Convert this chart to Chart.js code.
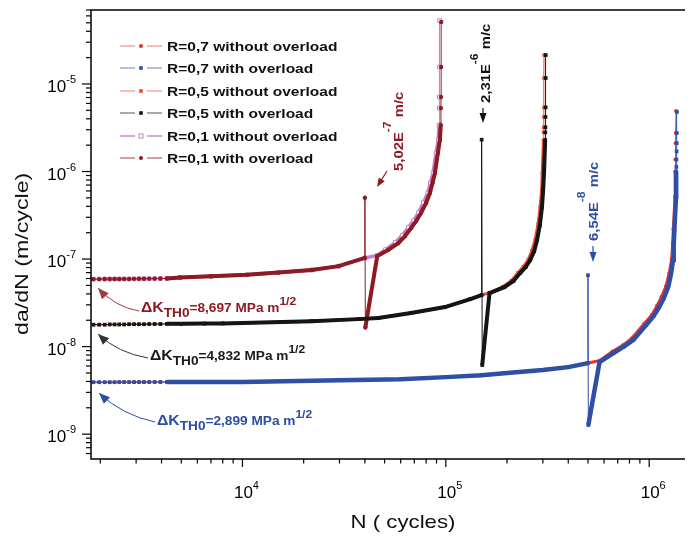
<!DOCTYPE html>
<html>
<head>
<meta charset="utf-8">
<title>Crack growth rate</title>
<script src="https://cdn.jsdelivr.net/npm/chart.js@4.4.1/dist/chart.umd.min.js"></script>
<style>
  html, body { margin: 0; padding: 0; background: #fff; }
</style>
</head>
<body>
<canvas id="rate-chart" width="690" height="536"></canvas>
<script>
// N (cycles) and da/dN (m/cycle) of each curve
var r07FreeN = [1850, 1975, 2100, 2225, 2350, 2480, 2620, 2770, 2930, 3100, 3280, 3480, 3700, 3950, 4250, 5000, 6500, 8000,
  10000, 30000, 60000, 100000, 150000, 200000, 300000, 400000, 500000, 570000, 660000, 745000, 820000, 945000,
  1030000, 1090000, 1150000, 1210000, 1255000, 1290000, 1305000, 1315000, 1340000,
  1343000, 1346000, 1349000, 1352000, 1355000];
var r07FreeV = [3.92e-9, 3.92e-9, 3.92e-9, 3.92e-9, 3.92e-9, 3.93e-9, 3.93e-9, 3.93e-9, 3.93e-9, 3.93e-9, 3.93e-9, 3.94e-9, 3.94e-9, 3.94e-9, 3.94e-9, 3.94e-9, 3.94e-9, 3.95e-9,
  3.95e-9, 4.14e-9, 4.25e-9, 4.48e-9, 4.72e-9, 4.98e-9, 5.39e-9, 5.83e-9, 6.5e-9, 6.9e-9, 8.8e-9, 1.04e-8, 1.24e-8, 1.82e-8,
  2.3e-8, 2.9e-8, 3.7e-8, 4.9e-8, 6.9e-8, 1.0e-7, 1.5e-7, 2.2e-7, 5.2e-7,
  1.0e-6, 1.37e-6, 2.11e-6, 2.75e-6, 4.9e-6];

var r07OverN = [1850, 1975, 2100, 2225, 2350, 2480, 2620, 2770, 2930, 3100, 3280, 3480, 3700, 3950, 4250, 5000, 6500, 8000,
  10000, 30000, 60000, 100000, 150000, 200000, 300000, 400000, 500000, 500000, 502000,
  570000, 667000, 750000, 835000, 966000, 1050000, 1120000, 1180000, 1240000, 1280000, 1310000, 1320000, 1330000,
  1355000, 1356500, 1358000, 1360000, 1362000, 1364000, 1366000, 1368000, 1370000];
var r07OverV = [3.92e-9, 3.92e-9, 3.92e-9, 3.92e-9, 3.92e-9, 3.93e-9, 3.93e-9, 3.93e-9, 3.93e-9, 3.93e-9, 3.93e-9, 3.94e-9, 3.94e-9, 3.94e-9, 3.94e-9, 3.94e-9, 3.94e-9, 3.95e-9,
  3.95e-9, 4.14e-9, 4.25e-9, 4.48e-9, 4.72e-9, 4.98e-9, 5.39e-9, 5.83e-9, 6.47e-9, 6.54e-8, 1.27e-9,
  6.65e-9, 8.44e-9, 1.0e-8, 1.19e-8, 1.76e-8, 2.23e-8, 2.83e-8, 3.58e-8, 4.79e-8, 6.74e-8, 9.74e-8, 1.44e-7, 2.14e-7,
  5.12e-7, 7.2e-7, 1.0e-6, 1.13e-6, 1.37e-6, 1.70e-6, 2.11e-6, 2.75e-6, 4.79e-6];

var r05FreeN = [1850, 1975, 2100, 2225, 2350, 2480, 2620, 2770, 2930, 3100, 3280, 3480, 3700, 3950, 4250, 5000, 6500, 8000,
  10000, 21900, 37200, 46600, 67500, 99000, 132000, 150000, 164000, 190000, 210000, 226000, 241000, 254000,
  265000, 275000, 284000, 291000, 296000, 298000, 302000,
  302500, 303000, 303300, 303600, 303800, 304000];
var r05FreeV = [1.78e-8, 1.78e-8, 1.78e-8, 1.79e-8, 1.79e-8, 1.79e-8, 1.79e-8, 1.80e-8, 1.80e-8, 1.80e-8, 1.80e-8, 1.81e-8, 1.81e-8, 1.81e-8, 1.82e-8, 1.82e-8, 1.83e-8, 1.84e-8,
  1.86e-8, 1.95e-8, 2.06e-8, 2.12e-8, 2.42e-8, 2.83e-8, 3.49e-8, 3.88e-8, 4.1e-8, 4.8e-8, 5.65e-8, 6.95e-8, 8.2e-8, 9.8e-8,
  1.25e-7, 1.66e-7, 2.5e-7, 3.95e-7, 6.2e-7, 9.6e-7, 2.29e-6,
  2.8e-6, 3.2e-6, 4.2e-6, 5.4e-6, 1.17e-5, 2.14e-5];

var r05OverN = [1850, 1975, 2100, 2225, 2350, 2480, 2620, 2770, 2930, 3100, 3280, 3480, 3700, 3950, 4250, 5000, 6500, 8000,
  10000, 21900, 37200, 46600, 67500, 99000, 132000, 150000, 150000, 151000,
  164000, 194000, 215000, 232000, 247000, 260000, 272000, 281000, 290000, 297000, 301000, 304000, 308000,
  308500, 309000, 309300, 309600, 309800, 310000];
var r05OverV = [1.78e-8, 1.78e-8, 1.78e-8, 1.79e-8, 1.79e-8, 1.79e-8, 1.79e-8, 1.80e-8, 1.80e-8, 1.80e-8, 1.80e-8, 1.81e-8, 1.81e-8, 1.81e-8, 1.82e-8, 1.82e-8, 1.83e-8, 1.84e-8,
  1.86e-8, 1.95e-8, 2.06e-8, 2.12e-8, 2.42e-8, 2.83e-8, 3.49e-8, 3.88e-8, 2.31e-6, 6.15e-9,
  4.09e-8, 4.78e-8, 5.61e-8, 6.92e-8, 8.11e-8, 9.74e-8, 1.23e-7, 1.65e-7, 2.45e-7, 3.93e-7, 6.15e-7, 9.6e-7, 2.29e-6,
  2.8e-6, 3.2e-6, 4.2e-6, 5.4e-6, 1.17e-5, 2.14e-5];

var r01FreeN = [1850, 1975, 2100, 2225, 2350, 2480, 2620, 2770, 2930, 3100, 3280, 3480, 3700, 3950, 4250,
  4930, 7000, 10500, 15000, 21900, 29700, 40000, 46000, 50500, 56500, 61000, 65500, 69500, 73500, 77500,
  81500, 84000, 86500, 89500, 91800, 92600, 92800, 93000, 93100, 93200];
var r01FreeV = [5.90e-8, 5.90e-8, 5.91e-8, 5.91e-8, 5.92e-8, 5.92e-8, 5.93e-8, 5.93e-8, 5.94e-8, 5.95e-8, 5.96e-8, 5.97e-8, 5.98e-8, 5.99e-8, 6.00e-8,
  6.15e-8, 6.35e-8, 6.6e-8, 7.0e-8, 7.5e-8, 8.3e-8, 1.03e-7, 1.1e-7, 1.28e-7, 1.55e-7, 1.86e-7, 2.3e-7, 2.75e-7, 3.4e-7, 4.4e-7,
  5.7e-7, 7.4e-7, 9.6e-7, 1.63e-6, 2.3e-6, 3.4e-6, 5.3e-6, 7.1e-6, 1.56e-5, 5.3e-5];

var r01OverN = [1850, 1975, 2100, 2225, 2350, 2480, 2620, 2770, 2930, 3100, 3280, 3480, 3700, 3950, 4250,
  4930, 7000, 10500, 15000, 21900, 29700, 40000, 40000, 40200,
  46000, 52000, 58300, 63000, 67500, 71500, 75500, 80000, 83500, 86000, 88400, 91400, 93500, 94400,
  94600, 94700, 94800, 94900];
var r01OverV = [5.90e-8, 5.90e-8, 5.91e-8, 5.91e-8, 5.92e-8, 5.92e-8, 5.93e-8, 5.93e-8, 5.94e-8, 5.95e-8, 5.96e-8, 5.97e-8, 5.98e-8, 5.99e-8, 6.00e-8,
  6.15e-8, 6.35e-8, 6.6e-8, 7.0e-8, 7.5e-8, 8.3e-8, 1.03e-7, 5.02e-7, 1.65e-8,
  1.08e-7, 1.27e-7, 1.52e-7, 1.83e-7, 2.26e-7, 2.72e-7, 3.36e-7, 4.37e-7, 5.68e-7, 7.4e-7, 9.6e-7, 1.63e-6, 2.29e-6, 3.4e-6,
  5.3e-6, 7.1e-6, 1.56e-5, 5.1e-5];

var seriesNames = ["R=0,7 without overload", "R=0,7 with overload", "R=0,5 without overload",
  "R=0,5 with overload", "R=0,1 without overload", "R=0,1 with overload"];

var FONT = '"Liberation Sans", Arial, sans-serif';

function pts(ns, vs) {
  return ns.map(function (n, i) { return { x: n, y: vs[i] }; });
}

// thin where the samples are sparse (start, overload jump, final rise), thick where they pile up
function segWidth(ns, thick, denseTop) {
  var spike = ns.findIndex(function (n, i) { return i > 0 && n === ns[i - 1]; });
  return function (c) {
    var i = c.p0DataIndex, a = c.p0.parsed, b = c.p1.parsed;
    if (b.x <= 4300) return 1;
    if (spike > 0 && (i === spike - 1 || i === spike)) return 1;
    if (a.y > denseTop || b.y > denseTop) return 1;
    return thick;
  };
}

function makeSet(idx, ns, vs, o) {
  return {
    label: seriesNames[idx],
    data: pts(ns, vs),
    borderColor: o.color,
    backgroundColor: o.color,
    borderWidth: 1,
    pointStyle: o.style,
    pointRadius: o.radius,
    pointBackgroundColor: o.open ? '#fff' : o.color,
    pointBorderColor: o.color,
    pointBorderWidth: o.open ? 1 : 0,
    tension: 0,
    order: o.order,
    clip: 6,
    segment: { borderWidth: segWidth(ns, o.thick, o.denseTop) },
    legendLine: o.legendLine,
    legendLineWidth: o.legendLineWidth || 1
  };
}

function fontOf(p) {
  return (p.bold ? 'bold ' : '') + p.size + 'px ' + FONT;
}

function rich(ctx, parts, x, y, align, color, sx) {
  sx = sx || 1;
  var widths = parts.map(function (p) {
    ctx.font = fontOf(p);
    return ctx.measureText(p.t).width * sx;
  });
  var total = widths.reduce(function (s, w) { return s + w; }, 0);
  var cx = align === 'center' ? x - total / 2 : (align === 'right' ? x - total : x);
  ctx.fillStyle = color;
  ctx.textAlign = 'left';
  ctx.textBaseline = 'alphabetic';
  parts.forEach(function (p, i) {
    ctx.font = fontOf(p);
    ctx.save();
    ctx.translate(cx, y - (p.rise || 0));
    ctx.scale(sx, 1);
    ctx.fillText(p.t, 0, 0);
    ctx.restore();
    cx += widths[i];
  });
}

function upright(ctx, parts, x, y, color, sx) {
  ctx.save();
  ctx.translate(x, y);
  ctx.rotate(-Math.PI / 2);
  rich(ctx, parts, 0, 0, 'left', color, sx);
  ctx.restore();
}

function arrowHead(ctx, tipX, tipY, fromX, fromY, len, half, color) {
  var ang = Math.atan2(tipY - fromY, tipX - fromX);
  ctx.fillStyle = color;
  ctx.beginPath();
  ctx.moveTo(tipX, tipY);
  ctx.lineTo(tipX - len * Math.cos(ang) + half * Math.sin(ang), tipY - len * Math.sin(ang) - half * Math.cos(ang));
  ctx.lineTo(tipX - len * Math.cos(ang) - half * Math.sin(ang), tipY - len * Math.sin(ang) + half * Math.cos(ang));
  ctx.closePath();
  ctx.fill();
}

function curvedArrow(ctx, sx, sy, qx, qy, tx, ty, color) {
  ctx.strokeStyle = color;
  ctx.lineWidth = 1;
  ctx.beginPath();
  ctx.moveTo(sx, sy);
  ctx.quadraticCurveTo(qx, qy, tx, ty);
  ctx.stroke();
  arrowHead(ctx, tx, ty, qx, qy, 11, 4.5, color);
}

function logTicks(min, max) {
  var out = [];
  for (var e = Math.floor(Math.log10(min)); e <= Math.ceil(Math.log10(max)); e++) {
    for (var m = 1; m <= 9; m++) {
      var v = m * Math.pow(10, e);
      if (v >= min * 0.999 && v <= max * 1.001) out.push({ value: v, major: m === 1, exp: e });
    }
  }
  return out;
}

function powerLabel(ctx, exp, x, y, align) {
  rich(ctx, [{ t: '10', size: 17 }, { t: String(exp), size: 11, rise: 9 }], x, y, align, '#000', 1);
}

var decorate = {
  id: 'decorate',
  afterDraw: function (chart) {
    var ctx = chart.ctx, area = chart.chartArea, xs = chart.scales.x, ys = chart.scales.y;
    ctx.save();

    // frame
    ctx.strokeStyle = '#000';
    ctx.lineWidth = 1.5;
    ctx.beginPath();
    ctx.moveTo(area.right, area.top);
    ctx.lineTo(area.left, area.top);
    ctx.lineTo(area.left, area.bottom);
    ctx.lineTo(area.right, area.bottom);
    ctx.stroke();

    // ticks and labels
    ctx.lineWidth = 1.2;
    logTicks(xs.min, xs.max).forEach(function (t) {
      var px = xs.getPixelForValue(t.value);
      ctx.beginPath();
      ctx.moveTo(px, area.bottom);
      ctx.lineTo(px, area.bottom + (t.major ? 8 : 4.5));
      ctx.stroke();
      if (t.major) powerLabel(ctx, t.exp, px + 4, 498, 'center');
    });
    logTicks(ys.min, ys.max).forEach(function (t) {
      var py = ys.getPixelForValue(t.value);
      ctx.beginPath();
      ctx.moveTo(area.left, py);
      ctx.lineTo(area.left - (t.major ? 9 : 5), py);
      ctx.stroke();
      if (t.major) powerLabel(ctx, t.exp, 76, py + 8, 'right');
    });

    // axis titles
    rich(ctx, [{ t: 'N ( cycles)', size: 18.5 }], 403, 528, 'center', '#111', 1.2);
    upright(ctx, [{ t: 'da/dN (m/cycle)', size: 19 }], 28, 335, '#111', 1.22);

    // legend
    chart.data.datasets.forEach(function (ds, i) {
      var y = [46, 68, 91, 113, 136, 158][i];
      ctx.strokeStyle = ds.legendLine;
      ctx.lineWidth = ds.legendLineWidth;
      ctx.beginPath();
      ctx.moveTo(120, y); ctx.lineTo(135, y);
      ctx.moveTo(147, y); ctx.lineTo(162, y);
      ctx.stroke();
      ctx.fillStyle = ds.pointBorderColor;
      if (ds.pointStyle === 'circle') {
        ctx.beginPath(); ctx.arc(141, y, 2, 0, Math.PI * 2); ctx.fill();
      } else if (ds.pointBorderWidth) {
        ctx.strokeStyle = ds.pointBorderColor; ctx.lineWidth = 1;
        ctx.strokeRect(139, y - 2, 4, 4);
      } else {
        ctx.fillRect(139.2, y - 1.8, 3.6, 3.6);
      }
      rich(ctx, [{ t: ds.label, size: 13.5, bold: true }], 167, y + 5, 'left', '#111', 1.15);
    });

    // overload peaks
    var red = '#8e1b22', blk = '#111', blue = '#2c4da0';
    upright(ctx, [{ t: '5,02E', size: 13.5, bold: true }, { t: '-7', size: 11, bold: true, rise: 12 }, { t: ' m/c', size: 13.5, bold: true }], 403, 171, red, 1.1);
    ctx.strokeStyle = red; ctx.lineWidth = 1.2;
    ctx.beginPath(); ctx.moveTo(387, 171); ctx.lineTo(380, 182); ctx.stroke();
    arrowHead(ctx, 377, 187, 387, 171, 9, 3.5, red);

    upright(ctx, [{ t: '2,31E', size: 13.5, bold: true }, { t: '-6', size: 11, bold: true, rise: 12 }, { t: ' m/c', size: 13.5, bold: true }], 490, 103, blk, 1.1);
    ctx.strokeStyle = blk;
    ctx.beginPath(); ctx.moveTo(483, 108); ctx.lineTo(483, 114); ctx.stroke();
    arrowHead(ctx, 483, 123, 483, 108, 10, 3.5, blk);

    upright(ctx, [{ t: '6,54E', size: 13.5, bold: true }, { t: '-8', size: 11, bold: true, rise: 13 }, { t: ' m/c', size: 13.5, bold: true }], 598, 241, blue, 1.1);
    ctx.strokeStyle = blue;
    ctx.beginPath(); ctx.moveTo(593, 246); ctx.lineTo(593, 252); ctx.stroke();
    arrowHead(ctx, 593, 262, 593, 246, 10, 3.5, blue);

    // threshold labels
    var kParts = function (val) {
      return [{ t: '\u0394K', size: 15, bold: true }, { t: 'TH0', size: 13, bold: true, rise: -5 },
        { t: '=' + val + ' MPa m', size: 13, bold: true }, { t: '1/2', size: 11.5, bold: true, rise: 7 }];
    };
    rich(ctx, kParts('8,697'), 141, 312, 'left', red, 1.05);
    rich(ctx, kParts('4,832'), 150, 360, 'left', '#1a1a1a', 1.05);
    rich(ctx, kParts('2,899'), 157, 425, 'left', blue, 1.05);
    curvedArrow(ctx, 139, 311, 115, 307, 98, 288, '#a33a3a');
    curvedArrow(ctx, 148, 358, 118, 353, 98, 334, '#333');
    curvedArrow(ctx, 155, 422, 122, 415, 99, 393, blue);

    ctx.restore();
  }
};

var chart = new Chart(document.getElementById('rate-chart'), {
  type: 'line',
  data: {
    datasets: [
      makeSet(0, r07FreeN, r07FreeV, { color: '#e8322a', style: 'circle', radius: 2, order: 2, thick: 3, denseTop: 1.0e-6, legendLine: '#f07a6c' }),
      makeSet(1, r07OverN, r07OverV, { color: '#2f4fa6', style: 'rect', radius: 2.6, order: 1, thick: 4.5, denseTop: 1.0e-6, legendLine: '#6c7cc4' }),
      makeSet(2, r05FreeN, r05FreeV, { color: '#ec4a2e', style: 'rect', radius: 2.4, order: 2, thick: 3, denseTop: 2.29e-6, legendLine: '#f07a6c' }),
      makeSet(3, r05OverN, r05OverV, { color: '#151515', style: 'rect', radius: 2.6, order: 1, thick: 4, denseTop: 2.29e-6, legendLine: '#555' }),
      makeSet(4, r01FreeN, r01FreeV, { color: '#c97ccc', style: 'rect', radius: 2.6, open: true, order: 2, thick: 3.5, denseTop: 3.4e-6, legendLine: '#dca6dc', legendLineWidth: 2 }),
      makeSet(5, r01OverN, r01OverV, { color: '#8e1b22', style: 'circle', radius: 2.2, order: 1, thick: 4, denseTop: 3.4e-6, legendLine: '#a84040' })
    ]
  },
  options: {
    responsive: false,
    devicePixelRatio: 1,
    animation: false,
    layout: { padding: { top: 10, right: 0, left: 0, bottom: 0 } },
    plugins: { legend: { display: false }, tooltip: { enabled: false }, title: { display: false } },
    scales: {
      x: {
        type: 'logarithmic', min: 1800, max: 1.5e6,
        grid: { display: false }, border: { display: false }, ticks: { display: false },
        afterFit: function (s) { s.height = 77; }
      },
      y: {
        type: 'logarithmic', min: 5.2e-10, max: 7e-5,
        grid: { display: false }, border: { display: false }, ticks: { display: false },
        afterFit: function (s) { s.width = 91; }
      }
    }
  },
  plugins: [decorate]
});
</script>
</body>
</html>
